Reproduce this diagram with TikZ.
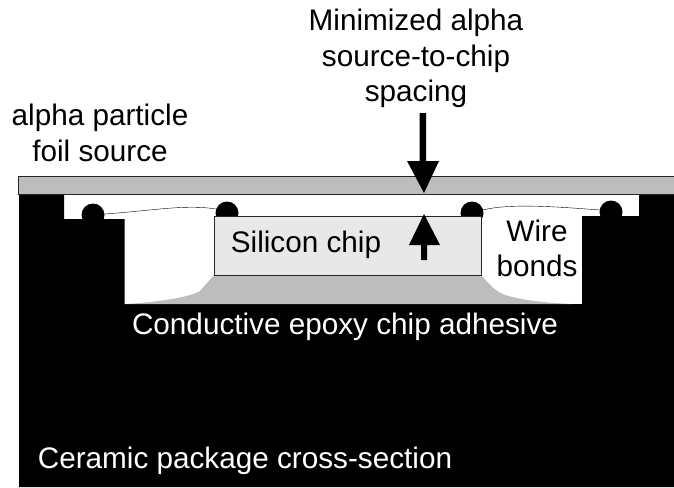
\documentclass[tikz,border=0pt]{standalone}
\usepackage{fontspec}
\setmainfont{Liberation Sans}
\begin{document}
\begin{tikzpicture}[x=1pt,y=-1pt,font=\fontsize{29.7}{35.5}\selectfont]
\tikzset{ball/.style={fill=black},
	blacktext/.style={align=center,text=black,inner sep=0pt},
	whitetext/.style={text=white,anchor=base,inner sep=0pt}}
\useasboundingbox (0,0) rectangle (674,487);
% package
\fill (19,195)--(64,195)--(64,219)--(124.5,219)--(124.5,304)--(582,304)--(582,216)--(639,216)--(639,195)--(674,195)--(674,487)--(19,487)--cycle;
% bonds
\fill[ball] (93,215) circle(11.5);
\fill[ball] (227,213) circle(11.5);
\fill[ball] (472,213) circle(11.5);
\fill[ball] (611,212) circle(11.5);
\draw[thin] (104,214) .. controls (150,211) and (185,204) .. (216,209);
\draw[thin] (483,210) .. controls (510,203) and (560,207) .. (600,210);
% epoxy
\fill[gray!52] (125,304) .. controls (160,302) and (190,297) .. (200,291)--(214,275)--(481,275)
	.. controls (490,285) and (495,291) .. (505,295) .. controls (525,301) and (550,303) .. (572,304)--cycle;
% chip
\draw[fill=gray!18,thick,draw=black!85] (214,216) rectangle (481,275);
% foil
\draw[fill=gray!52,thick,draw=black!85] (18,176) rectangle (674,194);
% arrows
\fill (419.5,113)--(426,113)--(426,161)--(439,161)--(424,193)--(407,161)--(419.5,161)--cycle;
\fill (421,260)--(427,260)--(427,245)--(440,245)--(424,214)--(409,245)--(421,245)--cycle;
% text
\node[blacktext] (spacing) at (416,58.5) {Minimized alpha\\source-to-chip\\spacing};
\node[blacktext] (foil) at (100,133) {alpha particle\\foil source};
\node[blacktext,anchor=base] (chip) at (306,252) {Silicon chip};
\node[blacktext] (wire) at (537,248.5) {Wire\\bonds};
\node[whitetext] (epoxy) at (345,334) {Conductive epoxy chip adhesive};
\node[whitetext] (ceramic) at (245,468) {Ceramic package cross-section};
\end{tikzpicture}
\end{document}
